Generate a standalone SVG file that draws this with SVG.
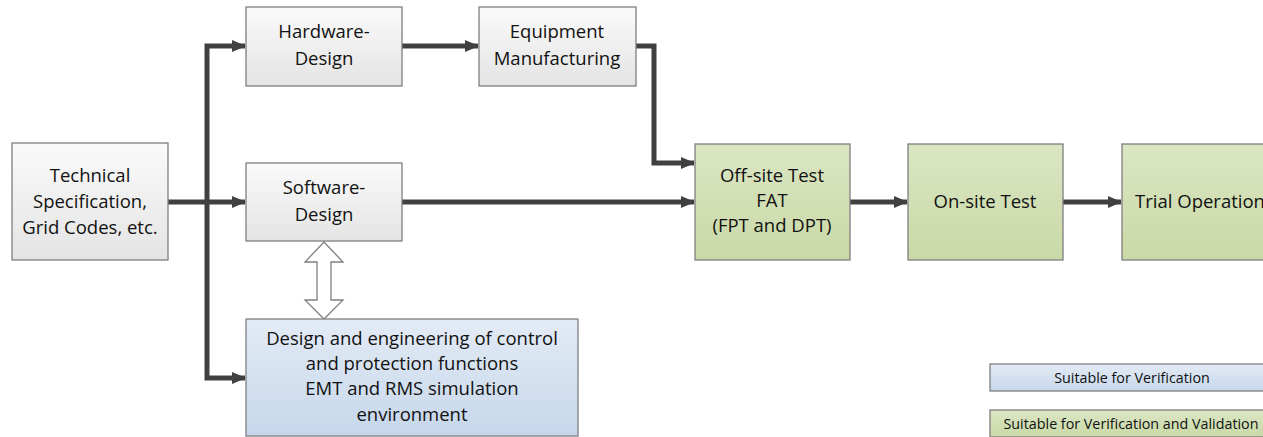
<svg xmlns="http://www.w3.org/2000/svg" width="1263" height="437" viewBox="0 0 1263 437">
<defs>
<linearGradient id="gGray" x1="0" y1="0" x2="0" y2="1"><stop offset="0" stop-color="#fafafa"/><stop offset="1" stop-color="#e4e4e4"/></linearGradient>
<linearGradient id="gGreen" x1="0" y1="0" x2="0" y2="1"><stop offset="0" stop-color="#dbe6c4"/><stop offset="1" stop-color="#c9d9a6"/></linearGradient>
<linearGradient id="gBlue" x1="0" y1="0" x2="0" y2="1"><stop offset="0" stop-color="#e3ebf5"/><stop offset="1" stop-color="#c6d7eb"/></linearGradient>
<marker id="arr" markerUnits="userSpaceOnUse" markerWidth="14" markerHeight="14" viewBox="0 0 14 14" refX="13" refY="7" orient="auto">
<path d="M0,1 L14,7 L0,13 Z" fill="#404040"/>
</marker>
<style>
.box{stroke:#7f7f7f;stroke-width:1.3}
.gray{fill:url(#gGray)}
.green{fill:url(#gGreen)}
.blue{fill:url(#gBlue)}
text{font-family:"Open Sans","Liberation Sans",sans-serif;font-size:18.5px;fill:#111111;text-anchor:middle}
.lg{font-size:14.3px}
.c{fill:none;stroke:#404040;stroke-width:5}
</style>
</defs>
<g id="connectors">
<path class="c" d="M168,202 H245" marker-end="url(#arr)"/>
<path class="c" d="M207,202 V46 H245" marker-end="url(#arr)"/>
<path class="c" d="M207,202 V378 H245" marker-end="url(#arr)"/>
<path class="c" d="M402,46 H478" marker-end="url(#arr)"/>
<path class="c" d="M636,46 H654 V163 H694" marker-end="url(#arr)"/>
<path class="c" d="M402,202 H694" marker-end="url(#arr)"/>
<path class="c" d="M850,202 H907" marker-end="url(#arr)"/>
<path class="c" d="M1063,202 H1121" marker-end="url(#arr)"/>
<path d="M324,242 L343,262 L331,262 L331,300 L343,300 L324,319 L305,300 L317,300 L317,262 L305,262 Z" fill="#ffffff" stroke="#7f7f7f" stroke-width="1.3"/>
</g>
<g id="technical"><rect class="box gray" x="12" y="143" width="156" height="117"/>
<text x="90" y="182">Technical</text><text x="90" y="208">Specification,</text><text x="90" y="234">Grid Codes, etc.</text></g>
<g id="hardware"><rect class="box gray" x="246" y="7" width="156" height="79"/>
<text x="324" y="38">Hardware-</text><text x="324" y="65">Design</text></g>
<g id="equipment"><rect class="box gray" x="479" y="7" width="157" height="79"/>
<text x="557" y="38">Equipment</text><text x="557" y="65">Manufacturing</text></g>
<g id="software"><rect class="box gray" x="246" y="163" width="156" height="78"/>
<text x="324" y="194">Software-</text><text x="324" y="221">Design</text></g>
<g id="design"><rect class="box blue" x="246" y="319" width="332" height="117"/>
<text x="412" y="345">Design and engineering of control</text><text x="412" y="370">and protection functions</text><text x="412" y="395">EMT and RMS simulation</text><text x="412" y="421">environment</text></g>
<g id="offsite"><rect class="box green" x="695" y="144" width="155" height="116"/>
<text x="772" y="182">Off-site Test</text><text x="772" y="207">FAT</text><text x="772" y="232">(FPT and DPT)</text></g>
<g id="onsite"><rect class="box green" x="908" y="144" width="155" height="116"/>
<text x="985" y="208">On-site Test</text></g>
<g id="trial"><rect class="box green" x="1122" y="144" width="160" height="116"/>
<text x="1200" y="208">Trial Operation</text></g>
<g id="legend">
<rect class="box blue" x="990" y="364" width="290" height="27"/>
<text class="lg" x="1132" y="383">Suitable for Verification</text>
<rect class="box green" x="990" y="410" width="290" height="27"/>
<text class="lg" x="1131" y="429">Suitable for Verification and Validation</text>
</g>
</svg>
